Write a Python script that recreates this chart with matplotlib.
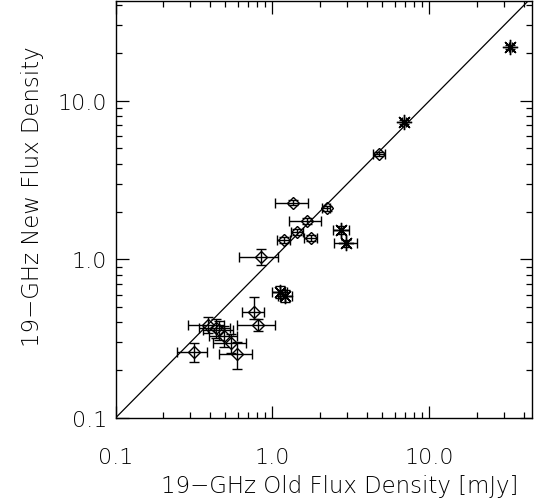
import matplotlib
matplotlib.use("Agg")
import matplotlib.pyplot as plt
from matplotlib.ticker import FixedLocator, LogLocator, NullFormatter
import numpy as np

# Data: asterisks
star_x = [32.8, 6.90, 2.75, 2.96, 1.11, 1.21]
star_y = [21.8, 7.38, 1.53, 1.26, 0.626, 0.59]
star_xerr = [0.8, 0.2, 0.33, 0.5, 0.12, 0.13]
star_yerr = [0.6, 0.2, 0.09, 0.07, 0.055, 0.05]

# Data: diamonds
dia_x = [4.78, 2.21, 1.36, 1.65, 1.44, 1.75, 1.18, 0.851, 0.760, 0.814,
         0.390, 0.459, 0.439, 0.494, 0.547, 0.598, 0.315]
dia_y = [4.62, 2.10, 2.27, 1.75, 1.49, 1.37, 1.33, 1.04, 0.466, 0.386,
         0.386, 0.359, 0.369, 0.329, 0.297, 0.253, 0.261]
dia_xerr = [0.42, 0.13, 0.32, 0.38, 0.12, 0.16, 0.105, 0.24, 0.12, 0.22,
            0.10, 0.10, 0.10, 0.10, 0.13, 0.14, 0.07]
dia_yerr_lo = [0.15, 0.08, 0.08, 0.07, 0.06, 0.06, 0.06, 0.12, 0.045, 0.035,
               0.045, 0.05, 0.05, 0.05, 0.04, 0.05, 0.034]
dia_yerr_hi = [0.15, 0.08, 0.08, 0.07, 0.06, 0.06, 0.06, 0.12, 0.114, 0.035,
               0.045, 0.05, 0.05, 0.05, 0.04, 0.05, 0.034]

tick_vals = [0.1, 1.0, 10.0]
tick_labels = ["0.1", "1.0", "10.0"]
xlims = [0.1, 45.0]
ylims = [0.1, 42.5]

fig = plt.figure(figsize=(5.34, 5.02), dpi=100)
ax = fig.add_axes([115.5 / 534, 83 / 502, 416.5 / 534, 417 / 502])
ax.set_xscale("log")
ax.set_yscale("log")
ax.set_xlim(xlims)
ax.set_ylim(ylims)

# one-to-one line
ax.plot([0.1, 100], [0.1, 100], color="black", lw=0.9)

ax.errorbar(dia_x, dia_y, xerr=dia_xerr, yerr=[dia_yerr_lo, dia_yerr_hi],
            fmt="D", ms=6.5, mfc="none", mec="black", mew=1.0,
            ecolor="black", elinewidth=1.0, capsize=3.5, capthick=1.0)
ax.errorbar(star_x, star_y, xerr=star_xerr, yerr=star_yerr,
            fmt="none", ecolor="black", elinewidth=1.0, capsize=3.5, capthick=1.0)
ax.plot(star_x, star_y, ls="none", marker=(8, 2, 0), ms=11, mew=1.0, color="black")

# ticks
for axis in (ax.xaxis, ax.yaxis):
    axis.set_major_locator(FixedLocator(tick_vals))
    axis.set_minor_locator(LogLocator(base=10, subs=np.arange(2, 10)))
    axis.set_minor_formatter(NullFormatter())
ax.set_xticklabels(tick_labels, fontweight="light")
ax.set_yticklabels(tick_labels, fontweight="light")
ax.tick_params(which="both", direction="in", top=True, right=True,
               width=0.9, labelsize=16, color="black")
ax.tick_params(which="major", length=9)
ax.tick_params(which="minor", length=4.5)
ax.tick_params(axis="x", which="major", pad=21)
ax.tick_params(axis="y", which="major", pad=6)
for s in ax.spines.values():
    s.set_linewidth(1.0)

ax.set_xlabel("19\u2212GHz Old Flux Density [mJy]", fontsize=16.5, fontweight="light")
ax.set_ylabel("19\u2212GHz New Flux Density", fontsize=16.5, fontweight="light")
ax.xaxis.set_label_coords(0.539, -0.135)
ax.yaxis.set_label_coords(-0.172, 0.532)

fig.savefig("out.png", dpi=100)
